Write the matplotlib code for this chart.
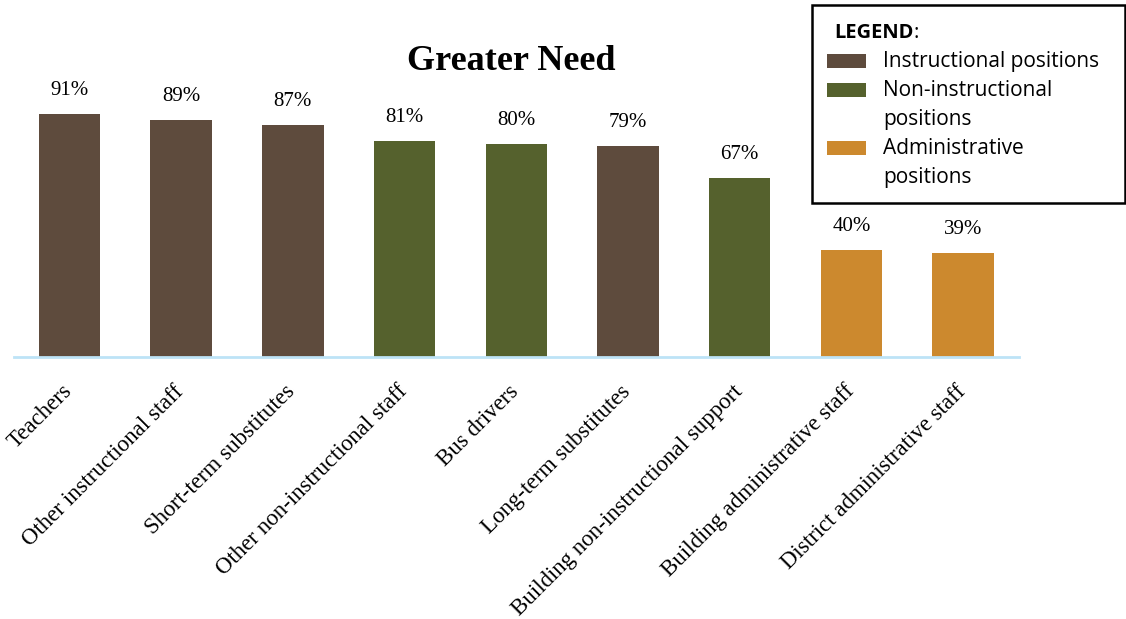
import matplotlib
matplotlib.use("Agg")
import matplotlib.pyplot as plt
from matplotlib.patches import Rectangle
from matplotlib.transforms import ScaledTranslation

# survey results: share of districts reporting greater need, by position
positions = ["Teachers", "Other instructional staff", "Short-term substitutes",
             "Other non-instructional staff", "Bus drivers", "Long-term substitutes",
             "Building non-instructional support", "Building administrative staff",
             "District administrative staff"]
need_pct = [91, 89, 87, 81, 80, 79, 67, 40, 39]
group = ["inst", "inst", "inst", "non", "non", "inst", "non", "admin", "admin"]

group_colors = {"inst": "#5E4B3D", "non": "#55612D", "admin": "#CC892E"}
legend_items = [("inst", ["Instructional positions"]),
                ("non", ["Non-instructional", "positions"]),
                ("admin", ["Administrative", "positions"])]

W, H = 1126, 619
fig = plt.figure(figsize=(W / 100, H / 100), dpi=100)
ax = fig.add_axes([13.65 / W, (H - 357) / H, (1019 - 13.65) / W, (357 - 40) / H])

x = list(range(len(positions)))
ax.bar(x, need_pct, width=0.55, color=[group_colors[g] for g in group], zorder=2)

for xi, v in zip(x, need_pct):
    ax.annotate(f"{v}%", (xi, v), xytext=(0, 10), textcoords="offset points",
                ha="center", va="bottom", fontsize=15, family="Liberation Serif")

ax.set_xlim(-0.5, len(positions) - 0.5)
ax.set_ylim(0, (357 - 40) / 2.667)
ax.set_xticks(x)
ax.set_xticklabels(positions, rotation=45, ha="right", va="top",
                   rotation_mode="anchor", fontsize=16.5, family="Liberation Serif")
ax.tick_params(axis="x", length=0, pad=19)
# nudge the slanted labels so they end right at each bar's centre
shift = ScaledTranslation(-0.08, 0.025, fig.dpi_scale_trans)
for lbl in ax.get_xticklabels():
    lbl.set_transform(lbl.get_transform() + shift)
ax.set_yticks([])
for s in ["top", "right", "left"]:
    ax.spines[s].set_visible(False)
ax.spines["bottom"].set_color("#BDE3F7")
ax.spines["bottom"].set_linewidth(2)

fig.text(511 / W, 1 - 61 / H, "Greater Need", ha="center", va="center",
         fontsize=26, fontweight="bold", family="Liberation Serif")

# legend box drawn by hand so the labels can wrap
fig.patches.append(Rectangle((812 / W, 1 - 203 / H), (1125 - 812) / W, (203 - 5) / H,
                             transform=fig.transFigure, facecolor="white",
                             edgecolor="black", linewidth=1.8, zorder=5))
sans = "Open Sans"
t = fig.text(834 / W, 1 - 33 / H, "LEGEND", ha="left", va="center", fontsize=14.5,
             fontweight="bold", family=sans, zorder=6)
fig.canvas.draw()
bb = t.get_window_extent()
fig.text(bb.x1 / W, 1 - 33 / H, ":", ha="left", va="center", fontsize=14.5,
         family=sans, zorder=6)

row_y = 61
for key, lines in legend_items:
    fig.patches.append(Rectangle((827 / W, 1 - (row_y + 7) / H), 39 / W, 14 / H,
                                 transform=fig.transFigure, facecolor=group_colors[key],
                                 edgecolor="none", zorder=6))
    for line in lines:
        fig.text(883 / W, 1 - row_y / H, line, ha="left", va="center",
                 fontsize=15, family=sans, zorder=6)
        row_y += 29

fig.savefig("out.png", dpi=100)
